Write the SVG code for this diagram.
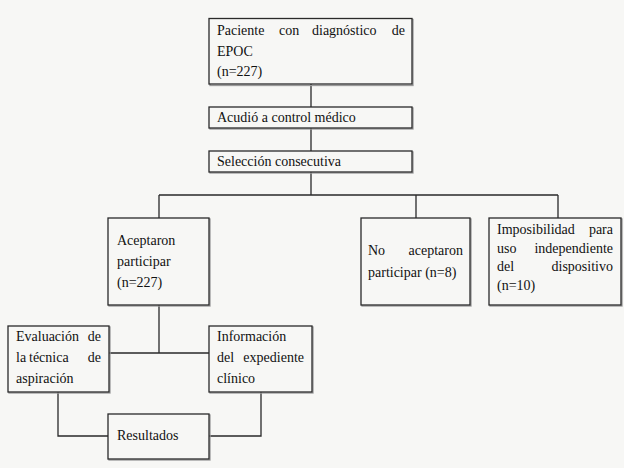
<svg xmlns="http://www.w3.org/2000/svg" width="624" height="468" viewBox="0 0 624 468">
<style>
.bg{fill:#f7f7f5}
.box{fill:#f7f7f5;stroke:#2a2a2a;stroke-width:1.3}
.sh{fill:none;stroke:#9a9a9a;stroke-width:1.3}
.ln{fill:none;stroke:#2a2a2a;stroke-width:1.3}
text{font-family:'Liberation Serif',serif;font-size:14px;fill:#111}
.e{text-anchor:end}
</style>
<rect class="bg" x="0" y="0" width="624" height="468"/>
<g id="connectors">
<path class="ln" d="M311 84V107M311 128V151M311 172V195M159 195H558M159 195V218M416 195V218M558 195V218"/>
<path class="ln" d="M159 305V353M109 353H209"/>
<path class="ln" d="M58 392V436H108M261 392V436H209"/>
</g>
<g id="n1">
<rect class="sh" x="210" y="19.5" width="203" height="66"/>
<rect class="box" x="209" y="18.5" width="203" height="65.5"/>
<text x="217" y="35">Paciente</text><text x="279" y="35">con</text><text x="312" y="35">diagnóstico</text><text class="e" x="405" y="35">de</text>
<text x="217" y="56">EPOC</text>
<text x="217" y="76">(n=227)</text>
</g>
<g id="n2">
<rect class="sh" x="210" y="108" width="203" height="21"/>
<rect class="box" x="209" y="107" width="203" height="21"/>
<text x="217" y="122">Acudió a control médico</text>
</g>
<g id="n3">
<rect class="sh" x="210" y="152" width="203" height="21"/>
<rect class="box" x="209" y="151" width="203" height="21"/>
<text x="217" y="166">Selección consecutiva</text>
</g>
<g id="n4">
<rect class="sh" x="109" y="219" width="101" height="87"/>
<rect class="box" x="108" y="218" width="101" height="87"/>
<text x="117" y="245">Aceptaron</text>
<text x="117" y="266">participar</text>
<text x="117" y="287">(n=227)</text>
</g>
<g id="n5">
<rect class="sh" x="362" y="219" width="109" height="87"/>
<rect class="box" x="361" y="218" width="109" height="87"/>
<text x="368" y="255">No</text><text class="e" x="463" y="255">aceptaron</text>
<text x="368" y="277">participar (n=8)</text>
</g>
<g id="n6">
<rect class="sh" x="490" y="219" width="132" height="87"/>
<rect class="box" x="489" y="218" width="132" height="87"/>
<text x="497" y="234">Imposibilidad</text><text class="e" x="613" y="234">para</text>
<text x="497" y="253">uso</text><text class="e" x="613" y="253">independiente</text>
<text x="497" y="271">del</text><text class="e" x="613" y="271">dispositivo</text>
<text x="497" y="290">(n=10)</text>
</g>
<g id="n7">
<rect class="sh" x="9" y="327" width="101" height="66"/>
<rect class="box" x="8" y="326" width="101" height="66"/>
<text x="16" y="341">Evaluación</text><text class="e" x="101" y="341">de</text>
<text x="16" y="362">la</text><text x="29" y="362">técnica</text><text class="e" x="101" y="362">de</text>
<text x="16" y="383">aspiración</text>
</g>
<g id="n8">
<rect class="sh" x="210" y="327" width="103" height="66"/>
<rect class="box" x="209" y="326" width="103" height="66"/>
<text x="217" y="341">Información</text>
<text x="217" y="362">del</text><text class="e" x="304" y="362">expediente</text>
<text x="217" y="383">clínico</text>
</g>
<g id="n9">
<rect class="sh" x="109" y="415" width="101" height="45"/>
<rect class="box" x="108" y="414" width="101" height="45"/>
<text x="117" y="440">Resultados</text>
</g>
</svg>
